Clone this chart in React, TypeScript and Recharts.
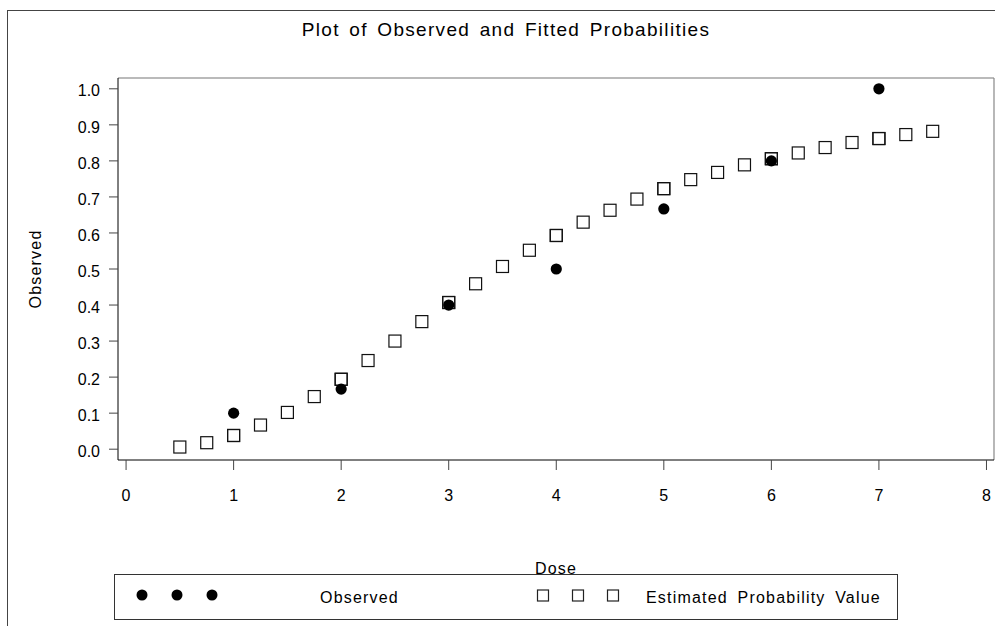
import { ScatterChart, Scatter, XAxis, YAxis, Legend, ReferenceLine } from 'recharts'

// observed proportions at each dose
const obsDose = [1, 2, 3, 4, 5, 6, 7]
const obsProb = [0.1, 0.1667, 0.4, 0.5, 0.6667, 0.8, 1.0]

// fitted curve evaluated on a grid of doses
const gridDose = [0.5, 0.75, 1, 1.25, 1.5, 1.75, 2, 2.25, 2.5, 2.75, 3, 3.25, 3.5, 3.75, 4, 4.25, 4.5, 4.75, 5, 5.25, 5.5, 5.75, 6, 6.25, 6.5, 6.75, 7, 7.25, 7.5]
const gridProb = [0.006, 0.018, 0.038, 0.067, 0.102, 0.146, 0.194, 0.246, 0.3, 0.354, 0.407, 0.459, 0.507, 0.552, 0.593, 0.63, 0.663, 0.694, 0.723, 0.748, 0.768, 0.789, 0.806, 0.822, 0.837, 0.851, 0.862, 0.873, 0.882]
// fitted values at the observed doses (plotted again on top of the grid)
const fitAtObs = [0.038, 0.194, 0.407, 0.593, 0.723, 0.806, 0.862]

const xTicks = [0, 1, 2, 3, 4, 5, 6, 7, 8]
const yTicks = [0, 0.1, 0.2, 0.3, 0.4, 0.5, 0.6, 0.7, 0.8, 0.9, 1.0]
const xDomain = [-0.075, 8.07]
const yDomain = [-0.03, 1.03]

const seriesNames = ['Observed', 'Estimated Probability Value']

const observedData = obsDose.map((d, i) => ({ dose: d, p: obsProb[i] }))
const fittedData = [
  ...gridDose.map((d, i) => ({ dose: d, p: gridProb[i] })),
  ...obsDose.map((d, i) => ({ dose: d, p: fitAtObs[i] })),
]

const FONT = '"Liberation Sans", Arial, Helvetica, sans-serif'

const Square = (props: any) => {
  const { cx, cy } = props
  if (cx == null || cy == null) return null
  return <rect x={cx - 6} y={cy - 6} width={12} height={12} fill="none" stroke="#111" strokeWidth={1.2} />
}

const Dot = (props: any) => {
  const { cx, cy } = props
  if (cx == null || cy == null) return null
  return <circle cx={cx} cy={cy} r={5.6} fill="#000" />
}

const labelText = { fontSize: 16, fill: '#000', letterSpacing: '1.2px', wordSpacing: '4px' }

function LegendBox() {
  return (
    <div
      style={{
        boxSizing: 'border-box',
        width: 784,
        height: 46,
        border: '1px solid #333',
        position: 'relative',
        fontFamily: FONT,
        fontSize: 16,
        color: '#000',
        letterSpacing: '1.2px',
        wordSpacing: '4px',
      }}
    >
      <svg width={784} height={44} style={{ position: 'absolute', left: 0, top: 0 }}>
        {[27, 62, 97].map(x => (
          <circle key={x} cx={x} cy={20} r={5.5} fill="#000" />
        ))}
        {[428, 463, 498].map(x => (
          <rect key={x} x={x - 5.5} y={15} width={11} height={11} fill="none" stroke="#222" strokeWidth={1.2} />
        ))}
      </svg>
      <span style={{ position: 'absolute', left: 205, top: 14, lineHeight: '18px', whiteSpace: 'nowrap' }}>{seriesNames[0]}</span>
      <span style={{ position: 'absolute', left: 531, top: 14, lineHeight: '18px', whiteSpace: 'nowrap' }}>{seriesNames[1]}</span>
    </div>
  )
}

export default function App() {
  return (
    <div style={{ position: 'absolute', left: 0, top: 0, width: 995, height: 626, background: '#fff', fontFamily: FONT }}>
      {/* outer frame (top and left edges) */}
      <div style={{ position: 'absolute', left: 7, top: 10, right: 0, bottom: 0, borderLeft: '1px solid #444', borderTop: '1px solid #444' }} />
      <div
        style={{
          position: 'absolute',
          left: 506,
          top: 20,
          transform: 'translateX(-50%)',
          fontSize: 19,
          lineHeight: '19px',
          letterSpacing: '1.3px',
          wordSpacing: '3px',
          whiteSpace: 'nowrap',
          color: '#000',
        }}
      >
        Plot of Observed and Fitted Probabilities
      </div>
      <ScatterChart width={995} height={626} margin={{ top: 78, right: 1, left: 0, bottom: 0 }} style={{ position: 'absolute', left: 0, top: 0 }}>
        <XAxis
          type="number"
          dataKey="dose"
          domain={xDomain}
          allowDataOverflow
          ticks={xTicks}
          height={166}
          tickSize={10}
          tickMargin={20}
          axisLine={{ stroke: '#000' }}
          tickLine={{ stroke: '#444' }}
          tick={{ fontSize: 16, fill: '#000', fontFamily: FONT }}
          label={(props: any) => {
            const vb = props.viewBox
            return (
              <text x={vb.x + vb.width / 2} y={574} textAnchor="middle" style={{ ...labelText, fontFamily: FONT }}>
                Dose
              </text>
            )
          }}
        />
        <YAxis
          type="number"
          dataKey="p"
          domain={yDomain}
          allowDataOverflow
          ticks={yTicks}
          width={118}
          tickSize={9}
          tickMargin={9}
          tickFormatter={(v: number) => v.toFixed(1)}
          axisLine={{ stroke: '#000' }}
          tickLine={{ stroke: '#444' }}
          tick={{ fontSize: 16, fill: '#000', fontFamily: FONT, dy: 2 }}
          label={(props: any) => {
            const vb = props.viewBox
            const cy = vb.y + vb.height / 2
            return (
              <text x={41} y={cy} textAnchor="middle" transform={`rotate(-90 41 ${cy})`} style={{ ...labelText, fontFamily: FONT }}>
                Observed
              </text>
            )
          }}
        />
        {/* frame of the plot area: top and right edges */}
        <ReferenceLine y={yDomain[1]} stroke="#777" strokeWidth={1.2} ifOverflow="visible" />
        <ReferenceLine x={xDomain[1]} stroke="#888" strokeWidth={1.2} ifOverflow="visible" />
        <Legend
          layout="horizontal"
          verticalAlign="middle"
          align="center"
          wrapperStyle={{ left: 114, top: 574, width: 784, height: 46 }}
          content={() => <LegendBox />}
        />
        <Scatter name={seriesNames[1]} data={fittedData} shape={Square} isAnimationActive={false} />
        <Scatter name={seriesNames[0]} data={observedData} shape={Dot} isAnimationActive={false} />
      </ScatterChart>
    </div>
  )
}
